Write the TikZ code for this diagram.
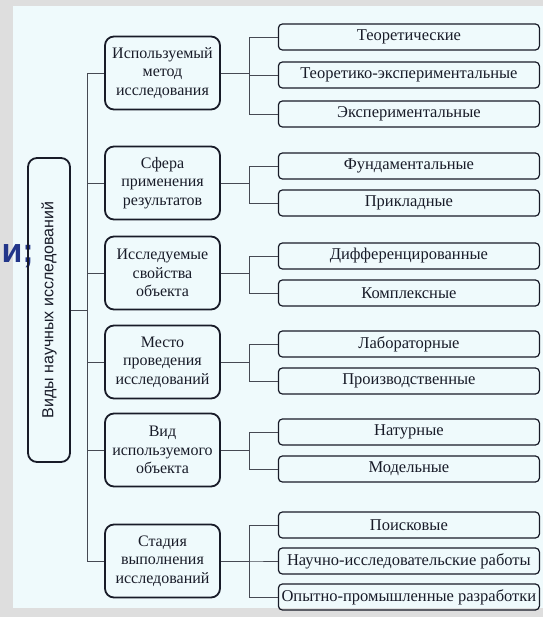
\documentclass[tikz,border=0pt]{standalone}
\usepackage{fontspec}
\setmainfont{Liberation Serif}
\setsansfont{Liberation Sans}

\definecolor{fond}{HTML}{EFFAFC}
\definecolor{marge}{HTML}{DEDEDE}
\definecolor{encre}{HTML}{181B28}
\definecolor{titre}{HTML}{22368A}

\begin{document}
\begin{tikzpicture}[x=1pt, y=-1pt,
    racine/.style={draw=encre, text=encre, line width=1.8pt, rounded corners=9pt, minimum width=42pt, minimum height=304pt, inner sep=0pt, font=\sffamily\fontsize{16}{18}\selectfont},
    groupe/.style={draw=encre, text=encre, line width=1.8pt, rounded corners=9pt, minimum width=115pt, minimum height=73pt, align=center, inner sep=2pt, font=\fontsize{16}{18.5}\selectfont},
    feuille/.style={draw=encre, text=encre, line width=1.2pt, rounded corners=4pt, minimum width=261pt, minimum height=26pt, inner sep=3pt, anchor=east, font=\fontsize{16.5}{18}\selectfont},
    lien/.style={draw=encre!80, line width=0.9pt},
    tronc/.style={to path={-- (\tikztostart -| m) |- (\tikztotarget)}},
    branche/.style={to path={-- (\tikztostart -| b) |- (\tikztotarget)}}]

    % Fond de la diapositive
    \useasboundingbox (0,0) rectangle (543,617);
    \fill[marge] (0,0) rectangle (543,617);
    \fill[fond] (13,6) rectangle (543,608);
    \node[anchor=base east, inner sep=0pt, text=titre, font=\sffamily\bfseries\fontsize{34}{38}\selectfont] (reste) at (34,262) {и;};

    % Axes des branchements
    \coordinate (m) at (87,0);
    \coordinate (b) at (249,0);

    % Racine et groupes
    \node[racine] (root) at (49,310) {\rotatebox{90}{Виды научных исследований}};
    \node[groupe] (g1) at (162.5,73) {Используемый\\метод\\исследования};
    \node[groupe] (g2) at (162.5,183) {Сфера\\применения\\результатов};
    \node[groupe] (g3) at (162.5,273) {Исследуемые\\свойства\\объекта};
    \node[groupe] (g4) at (162.5,362) {Место\\проведения\\исследований};
    \node[groupe] (g5) at (162.5,450) {Вид\\используемого\\объекта};
    \node[groupe] (g6) at (162.5,561) {Стадия\\выполнения\\исследований};

    % Feuilles
    \node[feuille] (l1) at (540,37) {Теоретические};
    \node[feuille] (l2) at (540,75) {Теоретико-экспериментальные};
    \node[feuille] (l3) at (540,114) {Экспериментальные};
    \node[feuille] (l4) at (540,166) {Фундаментальные};
    \node[feuille] (l5) at (540,203) {Прикладные};
    \node[feuille] (l6) at (540,256) {Дифференцированные};
    \node[feuille] (l7) at (540,293) {Комплексные};
    \node[feuille] (l8) at (540,344) {Лабораторные};
    \node[feuille] (l9) at (540,381) {Производственные};
    \node[feuille] (l10) at (540,432) {Натурные};
    \node[feuille] (l11) at (540,469) {Модельные};
    \node[feuille] (l12) at (540,525) {Поисковые};
    \node[feuille] (l13) at (540,561) {Научно-исследовательские работы};
    \node[feuille] (l14) at (540,597) {Опытно-промышленные разработки};

    % Liaisons
    \path[lien]
    (root) edge[tronc] (g1)
    (root) edge[tronc] (g2)
    (root) edge[tronc] (g3)
    (root) edge[tronc] (g4)
    (root) edge[tronc] (g5)
    (root) edge[tronc] (g6)
    (g1) edge[branche] (l1)
    (g1) edge[branche] (l2)
    (g1) edge[branche] (l3)
    (g2) edge[branche] (l4)
    (g2) edge[branche] (l5)
    (g3) edge[branche] (l6)
    (g3) edge[branche] (l7)
    (g4) edge[branche] (l8)
    (g4) edge[branche] (l9)
    (g5) edge[branche] (l10)
    (g5) edge[branche] (l11)
    (g6) edge[branche] (l12)
    (g6) edge[branche] (l13)
    (g6) edge[branche] (l14);

\end{tikzpicture}
\end{document}
